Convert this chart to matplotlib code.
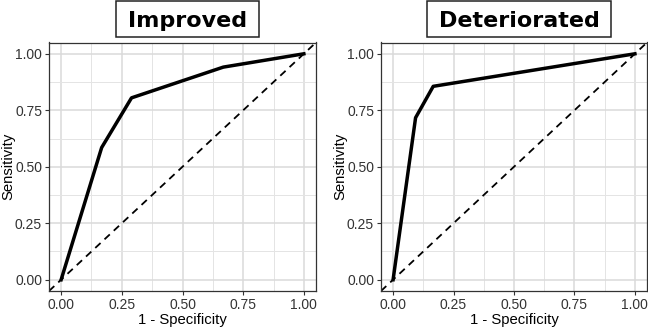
import matplotlib.pyplot as plt
from matplotlib.patches import Rectangle
from matplotlib.ticker import MultipleLocator

plt.rcParams['font.family'] = ['Liberation Sans', 'DejaVu Sans']

# ROC curve points
improved_fpr = [0.0, 0.167, 0.29, 0.668, 1.0]
improved_tpr = [0.0, 0.585, 0.805, 0.941, 1.0]

deteriorated_fpr = [0.0, 0.093, 0.166, 1.0]
deteriorated_tpr = [0.0, 0.717, 0.856, 1.0]

titles = ['Improved', 'Deteriorated']
ticks = [0.0, 0.25, 0.5, 0.75, 1.0]
tick_labels = ['0.00', '0.25', '0.50', '0.75', '1.00']

W, H = 648, 328
fig = plt.figure(figsize=(W / 100, H / 100), dpi=100)

# panel boxes in pixels (left, top, right, bottom) and title centres
boxes = [(49, 42.5, 316, 291), (381, 42.5, 647, 291)]
title_cx = [187.5, 519]

series = [(improved_fpr, improved_tpr), (deteriorated_fpr, deteriorated_tpr)]

renderer = fig.canvas.get_renderer()

for (x0, y0, x1, y1), (fpr, tpr), title, cx in zip(boxes, series, titles, title_cx):
    ax = fig.add_axes([x0 / W, 1 - y1 / H, (x1 - x0) / W, (y1 - y0) / H])
    ax.set_xlim(-0.05, 1.05)
    ax.set_ylim(-0.05, 1.05)
    ax.set_xticks(ticks)
    ax.set_xticklabels(tick_labels)
    ax.set_yticks(ticks)
    ax.set_yticklabels(tick_labels)
    ax.xaxis.set_minor_locator(MultipleLocator(0.125))
    ax.yaxis.set_minor_locator(MultipleLocator(0.125))
    ax.grid(which='major', color='#dadada', lw=1.1)
    ax.grid(which='minor', color='#e4e4e4', lw=0.7)
    ax.set_axisbelow(True)
    ax.tick_params(which='major', length=3, width=0.8, color='#333333',
                   labelsize=10, labelcolor='#333333', pad=2)
    ax.tick_params(which='minor', length=0)
    for s in ax.spines.values():
        s.set_color('#333333')
        s.set_linewidth(0.9)

    ax.plot([-0.05, 1.05], [-0.05, 1.05], ls=(0, (4, 3)), color='black', lw=1.3)
    ax.plot(fpr, tpr, color='black', lw=2.5, solid_joinstyle='round')

    ax.set_xlabel('1 - Specificity', fontsize=10.7, labelpad=1)
    ax.set_ylabel('Sensitivity', fontsize=10.7)
    ax.yaxis.set_label_coords(-34 / (x1 - x0), 0.5)

    # boxed bold title above the panel
    t = fig.text(cx / W, 1 - 27 / H, title, ha='center', va='baseline',
                 fontsize=16, fontweight='bold', family='DejaVu Sans')
    bb = t.get_window_extent(renderer)
    pad = 12
    fig.add_artist(Rectangle(((bb.x0 - pad) / W, 1 - 37 / H),
                             (bb.width + 2 * pad) / W, 36 / H,
                             transform=fig.transFigure, fc='white',
                             ec='#222222', lw=1.1, zorder=0))

fig.savefig('out.png', dpi=100)
